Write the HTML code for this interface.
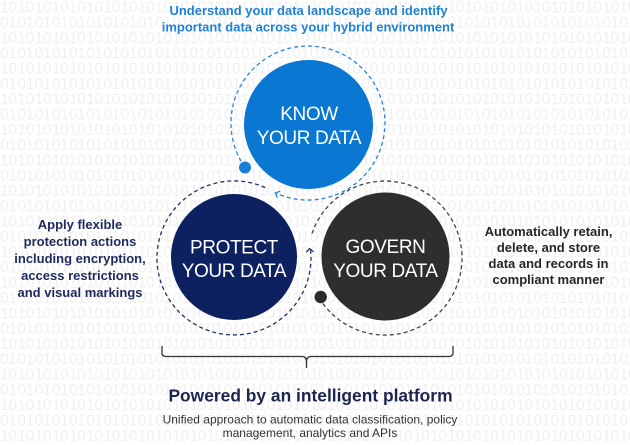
<!DOCTYPE html>
<html><head><meta charset="utf-8"><style>
html,body{margin:0;padding:0;background:#fff;}
svg{display:block;}
text{font-family:"Liberation Sans",Arial,sans-serif;}
</style></head><body>
<svg width="630" height="445" viewBox="0 0 630 445" xmlns="http://www.w3.org/2000/svg">
<defs>
<pattern id="bin" patternUnits="userSpaceOnUse" x="0" y="0" width="17.2" height="30.6">
<text x="0.3" y="12.5" font-size="15.5" fill="#f0f0f0">1</text>
<text x="8.5" y="12.5" font-size="15.5" fill="#f0f0f0">0</text>
<text x="0.3" y="27.8" font-size="15.5" fill="#f0f0f0">0</text>
<text x="8.5" y="27.8" font-size="15.5" fill="#f0f0f0">1</text>
</pattern>
</defs>
<rect x="0" y="0" width="630" height="445" fill="#fff"/>
<rect x="0" y="0" width="630" height="445" fill="url(#bin)"/>

<!-- Title -->
<text x="308.5" y="15" font-size="13" font-weight="bold" fill="#1e82d6" text-anchor="middle">Understand your data landscape and identify</text>
<text x="308" y="31.5" font-size="13" font-weight="bold" fill="#1e82d6" text-anchor="middle">important data across your hybrid environment</text>

<!-- Rings -->
<g fill="none" stroke-width="1.3" stroke-dasharray="4 3">
<path d="M244.9,167.2 A77,77 0 1 1 276.7,193.4" stroke="#2a86d8"/>
<path d="M265.3,187.6 A77,77 0 1 0 310.4,248.6" stroke="#1f3468"/>
<path d="M319,297.7 A77,77 0 1 0 311.8,234.2" stroke="#444"/>
</g>
<!-- Arrowheads -->
<path d="M277.3,197.7 L275.3,193 L280.2,191.2" fill="none" stroke="#2a86d8" stroke-width="1.3"/>
<path d="M306.3,252.4 L309.5,248.5 L313.4,251.7" fill="none" stroke="#1f3468" stroke-width="1.3"/>
<!-- Dots -->
<circle cx="245" cy="167.5" r="6" fill="#1a7fd6"/>
<circle cx="320.7" cy="297" r="6.2" fill="#2b2b2b"/>

<!-- Circles -->
<circle cx="308.5" cy="124.5" r="64.5" fill="#0a78d2"/>
<circle cx="234" cy="257" r="63" fill="#0d2160"/>
<circle cx="385.5" cy="256.5" r="64" fill="#2e2e2e"/>

<g font-size="19" fill="#fff" text-anchor="middle" letter-spacing="-0.4">
<text x="309" y="120">KNOW</text>
<text x="309" y="144">YOUR DATA</text>
<text x="234" y="253.5">PROTECT</text>
<text x="234" y="277">YOUR DATA</text>
<text x="385.5" y="253">GOVERN</text>
<text x="385.5" y="277">YOUR DATA</text>
</g>

<!-- Left text -->
<g font-size="13" font-weight="bold" fill="#1d2a5c" text-anchor="middle">
<text x="80" y="229">Apply flexible</text>
<text x="80" y="246">protection actions</text>
<text x="80" y="263">including encryption,</text>
<text x="80" y="280">access restrictions</text>
<text x="80" y="297">and visual markings</text>
</g>

<!-- Right text -->
<g font-size="13" font-weight="bold" fill="#262626" text-anchor="middle">
<text x="548.5" y="236">Automatically retain,</text>
<text x="548.5" y="252">delete, and store</text>
<text x="548.5" y="268">data and records in</text>
<text x="548.5" y="284">compliant manner</text>
</g>

<!-- Brace -->
<path d="M162,346 L162,353 Q162,356.5 166,356.5 L302,356.5 Q306.5,356.5 306.5,362 L306.5,368 M306.5,362 Q306.5,356.5 311,356.5 L449,356.5 Q453,356.5 453,353 L453,346" fill="none" stroke="#333" stroke-width="1.3"/>

<!-- Bottom text -->
<text x="310.5" y="401.5" font-size="17.4" font-weight="bold" fill="#1b2550" text-anchor="middle">Powered by an intelligent platform</text>
<text x="310" y="423.3" font-size="12" fill="#333" text-anchor="middle">Unified approach to automatic data classification, policy</text>
<text x="310" y="437" font-size="12" fill="#333" text-anchor="middle">management, analytics and APIs</text>
</svg>
</body></html>
